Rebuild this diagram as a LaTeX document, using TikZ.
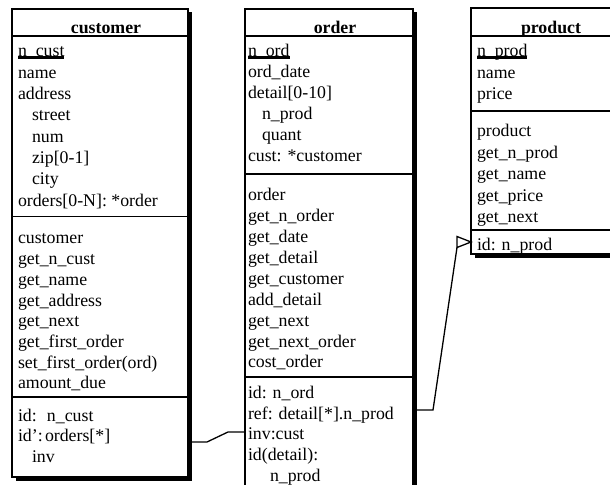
\documentclass[tikz,border=0pt]{standalone}
\usepackage{fontspec}
\setmainfont{Liberation Serif}
\usetikzlibrary{shadows}
\begin{document}
\begin{tikzpicture}[x=1bp,y=-1bp,
 box/.style={draw, line width=1.3bp, fill=white, inner sep=0pt, outer sep=0pt, anchor=north west,
   drop shadow={shadow xshift=3.5bp,shadow yshift=-3.5bp,opacity=1,fill=black}},
 txt/.style={anchor=base west, inner sep=0pt, outer sep=0pt, font=\fontsize{17.8bp}{21bp}\selectfont},
 ttl/.style={anchor=base, inner sep=0pt, outer sep=0pt, font=\fontsize{17.8bp}{21bp}\selectfont\bfseries},
 sepline/.style={line width=1.3bp},
 ul/.style={line width=2.4bp},
 conn/.style={line width=1.3bp, line join=miter}]
\useasboundingbox (0,0) rectangle (610,485);
\clip (0,0) rectangle (610,485);

% boxes
\node[box, minimum width=176bp, minimum height=468bp] (cust) at (12,9) {};
\node[box, minimum width=168bp, minimum height=486bp] (ord) at (245,9) {};
\node[box, minimum width=160bp, minimum height=246bp] (prod) at (471,8) {};

% separators
\draw[sepline] (cust.west |- 0,36) -- (cust.east |- 0,36);
\draw[sepline] (cust.west |- 0,216.5) -- (cust.east |- 0,216.5);
\draw[sepline] (cust.west |- 0,397) -- (cust.east |- 0,397);
\draw[sepline] (ord.west |- 0,36) -- (ord.east |- 0,36);
\draw[sepline] (ord.west |- 0,174) -- (ord.east |- 0,174);
\draw[sepline] (ord.west |- 0,377) -- (ord.east |- 0,377);
\draw[sepline] (prod.west |- 0,36) -- (prod.east |- 0,36);
\draw[sepline] (prod.west |- 0,111) -- (prod.east |- 0,111);
\draw[sepline] (prod.west |- 0,230) -- (prod.east |- 0,230);

% titles
\node[ttl] (custT) at (106,33.5) {customer};
\node[ttl] (ordT) at (335,33.5) {order};
\node[ttl] (prodT) at (551,33.5) {product};

% customer
\foreach \t [count=\i] in {n\_cust, name, address, {\hspace*{14bp}street}, {\hspace*{14bp}num},
  {\hspace*{14bp}zip[0-1]}, {\hspace*{14bp}city}, {orders[0-N]: *order}}
  \node[txt] (ca\i) at (18,{57+(\i-1)*21.3}) {\t};
\foreach \t [count=\i] in {customer, get\_n\_cust, get\_name, get\_address, get\_next,
  get\_first\_order, set\_first\_order(ord), amount\_due}
  \node[txt] (cm\i) at (18,{244+(\i-1)*20.7}) {\t};
\foreach \t [count=\i] in {{\makebox[29bp][l]{id:}n\_cust}, {\makebox[27bp][l]{id':}orders[*]},
  {\hspace*{14bp}inv}}
  \node[txt] (cc\i) at (18,{421+(\i-1)*20.5}) {\t};

% order
\foreach \t [count=\i] in {n\_ord, ord\_date, {detail[0-10]}, {\hspace*{14bp}n\_prod},
  {\hspace*{14bp}quant}, {cust: *customer}}
  \node[txt] (oa\i) at (248,{57+(\i-1)*21}) {\t};
\foreach \t [count=\i] in {order, get\_n\_order, get\_date, get\_detail, get\_customer,
  add\_detail, get\_next, get\_next\_order, cost\_order}
  \node[txt] (om\i) at (248,{200.7+(\i-1)*20.9}) {\t};
\foreach \t [count=\i] in {id: n\_ord, {ref: detail[*].n\_prod}, inv:cust, id(detail):,
  {\hspace*{22bp}n\_prod}}
  \node[txt] (oc\i) at (248,{398.5+(\i-1)*20.7}) {\t};

% product
\foreach \t [count=\i] in {n\_prod, name, price}
  \node[txt] (pa\i) at (477,{57+(\i-1)*21.5}) {\t};
\foreach \t [count=\i] in {product, get\_n\_prod, get\_name, get\_price, get\_next}
  \node[txt] (pm\i) at (477,{137+(\i-1)*21.5}) {\t};
\node[txt] (pc1) at (477,250) {id: n\_prod};

% identifier underlines
\draw[ul] ([yshift=-0.4bp]ca1.base west) -- ([yshift=-0.4bp]ca1.base east);
\draw[ul] ([yshift=-0.4bp]oa1.base west) -- ([yshift=-0.4bp]oa1.base east);
\draw[ul] ([yshift=-0.4bp]pa1.base west) -- ([yshift=-0.4bp]pa1.base east);

% connectors
\draw[conn] (191.5,442) -- (207,442) -- (228,432) -- (ord.west |- 0,432);
\coordinate (tip) at (prod.west |- 0,242);
\coordinate (abase) at (457,247.5);
\draw[conn] (417,410) -- (433,410) -- (abase);
\draw[conn] (tip) -- (457,236.5) -- (abase) -- cycle;
\end{tikzpicture}
\end{document}
